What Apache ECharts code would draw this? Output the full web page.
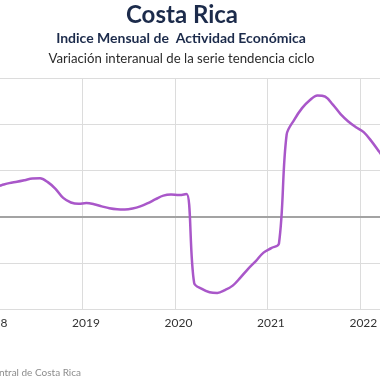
<!DOCTYPE html>
<html>
<head>
<meta charset="utf-8">
<script src="https://cdn.jsdelivr.net/npm/echarts@6/dist/echarts.min.js"></script>
<style>html,body{margin:0;padding:0;background:#fff;}#c{width:380px;height:380px;}</style>
</head>
<body>
<div id="c"></div>
<script>
const titleText = 'Costa Rica';
const subtitleText = 'Indice Mensual de  Actividad Económica';
const subsubText = 'Variación interanual de la serie tendencia ciclo';
const sourceText = 'Fuente: Banco Central de Costa Rica';

const months = [
 '2018-01','2018-02','2018-03','2018-04','2018-05','2018-06','2018-07','2018-08','2018-09','2018-10','2018-11','2018-12',
 '2019-01','2019-02','2019-03','2019-04','2019-05','2019-06','2019-07','2019-08','2019-09','2019-10','2019-11','2019-12',
 '2020-01','2020-02','2020-03','2020-04','2020-05','2020-06','2020-07','2020-08','2020-09','2020-10','2020-11','2020-12',
 '2021-01','2021-02','2021-03','2021-04','2021-05','2021-06','2021-07','2021-08','2021-09','2021-10','2021-11','2021-12',
 '2022-01','2022-02','2022-03','2022-04'
];
const imaeVar = [
 3.17, 3.40, 3.62, 3.77, 3.94, 4.12, 4.15, 3.73, 3.01, 2.02, 1.53, 1.38,
 1.46, 1.34, 1.11, 0.90, 0.79, 0.77, 0.87, 1.10, 1.46, 1.89, 2.27, 2.38,
 2.33, 2.45, -7.20, -7.82, -8.18, -8.26, -7.95, -7.47, -6.60, -5.66, -4.81, -3.90,
 -3.41, -2.92, 8.87, 10.50, 11.74, 12.60, 13.11, 12.98, 12.12, 11.09, 10.30, 9.68,
 9.14, 8.17, 7.03, 5.84
];
const yearTicks = [2018, 2019, 2020, 2021, 2022, 2023];
const yTicks = [-10, -5, 0, 5, 10, 15];

function monthPos(s) {
  const [y, m] = s.split('-').map(Number);
  return y + (m - 0.5) / 12;
}
const seriesData = months.map((mo, i) => [monthPos(mo), imaeVar[i]]);

const chart = echarts.init(document.getElementById('c'), null, {renderer: 'canvas'});
chart.setOption({
  animation: false,
  backgroundColor: '#ffffff',
  grid: {
    left: -10, right: -72.3, top: 78, bottom: 71,
    containLabel: false, outerBoundsMode: 'none'
  },
  xAxis: {
    type: 'value',
    min: yearTicks[0], max: yearTicks[yearTicks.length - 1], interval: 1,
    axisLine: {show: false},
    axisTick: {show: false},
    splitLine: {show: true, lineStyle: {color: '#dcdcdc', width: 1}},
    axisLabel: {
      color: '#333', fontFamily: 'Lato', fontSize: 12, margin: 8,
      padding: [0, 0, 0, 7],
      formatter: v => String(Math.round(v))
    }
  },
  yAxis: {
    type: 'value',
    min: yTicks[0], max: yTicks[yTicks.length - 1], interval: 5,
    axisLine: {show: false},
    axisTick: {show: false},
    axisLabel: {show: false},
    splitLine: {show: true, lineStyle: {color: '#dcdcdc', width: 1}}
  },
  series: [{
    type: 'line',
    data: seriesData,
    smooth: 0.35,
    showSymbol: false,
    lineStyle: {color: '#a957c9', width: 2.5},
    markLine: {
      silent: true,
      symbol: 'none',
      label: {show: false},
      lineStyle: {color: '#a3a3a3', width: 2, type: 'solid'},
      data: [{yAxis: 0}]
    },
    z: 5
  }],
  graphic: [
    {type: 'text', x: 182, y: 15, style: {text: titleText, font: 'bold 24px Lato', fill: '#1c2b4b', textAlign: 'center', textVerticalAlign: 'middle'}},
    {type: 'text', x: 181, y: 38.5, style: {text: subtitleText, font: 'bold 14px Lato', fill: '#1c2b4b', textAlign: 'center', textVerticalAlign: 'middle'}},
    {type: 'text', x: 181.5, y: 59, style: {text: subsubText, font: '13.2px Lato', fill: '#2b2b2b', textAlign: 'center', textVerticalAlign: 'middle'}},
    {type: 'text', x: 81, y: 373, style: {text: sourceText, font: '10px Lato', fill: '#8c8c8c', textAlign: 'right', textVerticalAlign: 'middle'}}
  ]
});
</script>
</body>
</html>
